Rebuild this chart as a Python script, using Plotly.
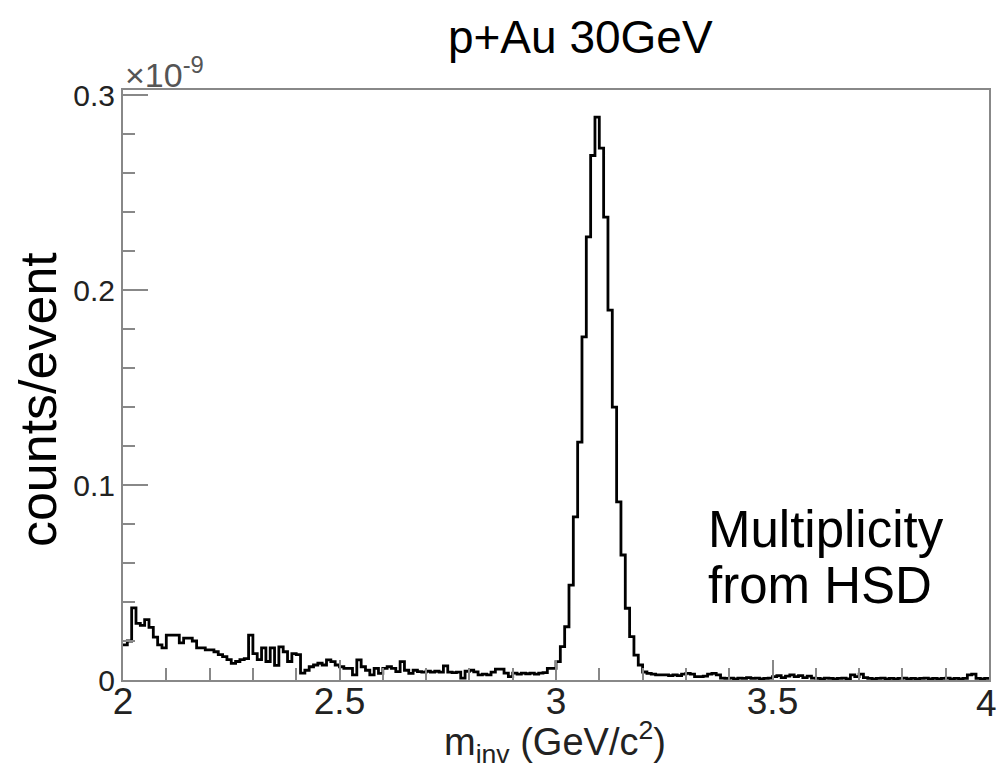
import numpy as np
import plotly.graph_objects as go

# Invariant-mass histogram, 0.01 GeV/c^2 bins from 2.00 to 4.00 (counts/event in units of 1e-9)
bin_lo = 2.0
bin_width = 0.01
n_bins = 200

low_mass = [
    0.018, 0.020, 0.037, 0.029, 0.028, 0.031, 0.027, 0.022, 0.018, 0.0165,
    0.023, 0.023, 0.023, 0.019, 0.0215, 0.0215, 0.020, 0.0165, 0.0165, 0.0155,
    0.0155, 0.0145, 0.013, 0.012, 0.0105, 0.0085, 0.0095, 0.0105, 0.011, 0.023,
    0.0135, 0.0105, 0.0165, 0.0095, 0.0165, 0.0075, 0.017, 0.0145, 0.0095, 0.0135,
    0.013, 0.0035, 0.005, 0.0068, 0.0077, 0.0086, 0.0077, 0.0103, 0.0094, 0.0077,
    0.0068, 0.006, 0.006, 0.0026, 0.0103, 0.0068, 0.005, 0.0026, 0.006, 0.0034,
    0.006, 0.0068, 0.006, 0.0043, 0.0094, 0.005, 0.0034, 0.005, 0.0043, 0.004,
    0.0045, 0.004, 0.0045, 0.004, 0.0072, 0.004, 0.0038, 0.004, 0.001, 0.0045,
    0.005, 0.0042, 0.0026, 0.003, 0.0026, 0.004, 0.0056, 0.0056, 0.0035, 0.0017,
    0.0035, 0.003, 0.0035, 0.0032, 0.0035, 0.003, 0.0035, 0.0038, 0.006, 0.006,
]

jpsi_peak = [
    0.0094, 0.0171, 0.0273, 0.0487, 0.0837, 0.122, 0.176, 0.2273, 0.269, 0.2887,
    0.2728, 0.2374, 0.1897, 0.140, 0.0914, 0.0641, 0.0368, 0.0222, 0.0128, 0.0077,
    0.0041,
]

high_mass = [
    0.0034, 0.003, 0.0026, 0.0026, 0.0026, 0.0022, 0.0026, 0.0022, 0.003, 0.0034,
    0.003, 0.0017, 0.0017, 0.002, 0.003, 0.0034, 0.0026, 0.001, 0.0008,
    0.001, 0.0006, 0.001, 0.0008, 0.0012, 0.0008, 0.001, 0.0006, 0.0008, 0.001,
    0.0017, 0.0022, 0.0012, 0.002, 0.0026, 0.0017, 0.0022, 0.0012, 0.002, 0.001,
    0.0008, 0.0006, 0.001, 0.0008, 0.0006, 0.0008, 0.001, 0.0006, 0.0026, 0.0017,
    0.003, 0.0012, 0.0008, 0.0006, 0.0008, 0.001, 0.0006, 0.0008, 0.0006, 0.0008,
    0.001, 0.0006, 0.0008, 0.0006, 0.0008, 0.001, 0.0006, 0.0008, 0.0006, 0.0008,
    0.001, 0.0006, 0.0008, 0.0006, 0.0008, 0.0026, 0.003, 0.0008, 0.0006, 0.0008,
]

counts = low_mass + jpsi_peak + high_mass
edges = np.round(bin_lo + bin_width * np.arange(n_bins + 1), 2)
step_y = counts + [counts[-1]]

x_tickvals = [2, 2.5, 3, 3.5, 4]
x_ticktext = ["2", "2.5", "3", "3.5", "4"]
y_tickvals = [0, 0.1, 0.2, 0.3]
y_ticktext = ["0", "0.1", "0.2", "0.3"]

FONT = "Liberation Sans, Arial, sans-serif"
FRAME = "#888888"
TICK_FONT_X = dict(size=37, family=FONT, color="#222222")

fig = go.Figure()
fig.add_trace(go.Scatter(
    x=edges, y=step_y, mode="lines", line_shape="hv",
    line=dict(color="black", width=2.8), hoverinfo="skip", showlegend=False,
))

# the last x label sits on the right frame edge, so it is placed as an annotation
x_axis_text = x_ticktext[:-1] + [""]

fig.update_layout(
    width=997, height=770,
    margin=dict(l=123, r=8, t=90, b=90),
    paper_bgcolor="white", plot_bgcolor="white",
    font=dict(family=FONT, color="black"),
    title=dict(text="p+Au 30GeV", font=dict(size=46, family=FONT, color="black"),
               xref="container", yref="container", x=0.582, y=0.952,
               xanchor="center", yanchor="middle"),
    xaxis=dict(
        range=[2, 4], showgrid=False, zeroline=False,
        showline=True, mirror=True, linecolor=FRAME, linewidth=2,
        ticks="inside", ticklen=20, tickwidth=2, tickcolor=FRAME,
        tickvals=x_tickvals, ticktext=x_axis_text,
        tickfont=TICK_FONT_X, ticklabelstandoff=-12,
        minor=dict(dtick=0.1, ticks="inside", ticklen=12, tickwidth=2, tickcolor=FRAME),
        automargin=False,
    ),
    yaxis=dict(
        range=[0, 0.3026], showgrid=False, zeroline=False,
        showline=True, mirror=True, linecolor=FRAME, linewidth=2,
        ticks="inside", ticklen=25, tickwidth=2, tickcolor=FRAME,
        tickvals=y_tickvals, ticktext=y_ticktext,
        tickfont=dict(size=30, family=FONT, color="#222222"),
        minor=dict(dtick=0.02, ticks="inside", ticklen=12, tickwidth=2, tickcolor=FRAME),
        automargin=False,
    ),
)

fig.add_annotation(text=x_ticktext[-1], xref="x", yref="paper", x=x_tickvals[-1], y=(680 - 703) / 590,
                   xanchor="center", yanchor="middle", xshift=-3, showarrow=False,
                   font=TICK_FONT_X)
fig.add_annotation(text="×10<sup>-9</sup>", xref="paper", yref="paper", x=0, y=1,
                   xanchor="left", yanchor="bottom", yshift=-6, showarrow=False,
                   font=dict(size=34, family=FONT, color="#555555"))
fig.add_annotation(text="counts/event", xref="paper", yref="paper", x=-0.098, y=0.4746,
                   xanchor="center", yanchor="middle", textangle=-90, showarrow=False,
                   font=dict(size=52, family=FONT, color="black"))
fig.add_annotation(text="m<sub>inv</sub> (GeV/c<sup>2</sup>)", xref="paper", yref="paper",
                   x=0.4988, y=(680 - 742) / 590, xanchor="center", yanchor="middle", showarrow=False,
                   font=dict(size=38, family=FONT, color="#222222"))
fig.add_annotation(text="Multiplicity", xref="paper", yref="paper", x=0.673, y=(680 - 529) / 590,
                   xanchor="left", yanchor="middle", showarrow=False,
                   font=dict(size=51, family=FONT, color="black"))
fig.add_annotation(text="from HSD", xref="paper", yref="paper", x=0.673, y=(680 - 585) / 590,
                   xanchor="left", yanchor="middle", showarrow=False,
                   font=dict(size=51, family=FONT, color="black"))

fig.write_html("out.html")
